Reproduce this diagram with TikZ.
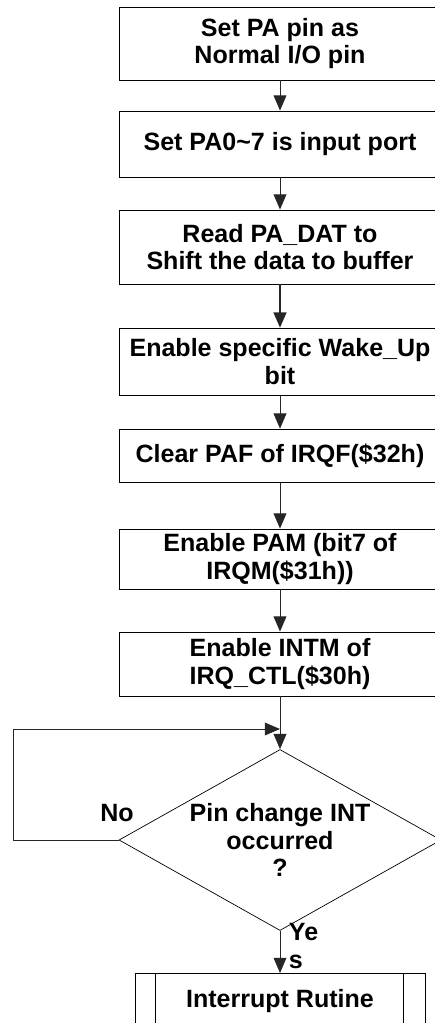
\documentclass[tikz,border=0pt]{standalone}
\usepackage{fontspec}
\setmainfont{Liberation Sans}
\usetikzlibrary{shapes.geometric, arrows.meta, positioning, calc}

\begin{document}
\begin{tikzpicture}[
    stepbox/.style={
        rectangle, draw=black, line width=0.6pt, minimum width=8.05cm,
        minimum height=#1, align=center, inner sep=0pt,
        font=\bfseries\fontsize{17.8}{19.6}\selectfont
    },
    stepbox/.default=1.6cm,
    decision/.style={
        diamond, draw=black, line width=0.5pt, minimum width=8.05cm,
        minimum height=4.525cm, inner sep=0pt
    },
    lbl/.style={font=\bfseries\fontsize{17.8}{19.6}\selectfont, align=center},
    arr/.style={-{Triangle[length=0.38cm,width=0.32cm]}, line width=0.7pt, color=black!85}
]
\useasboundingbox (0,0) rectangle (10.85,-25.575);

% Steps
\node[stepbox=1.825cm] (s1) at (7.0,-1.0875) {Set PA pin as\\Normal I/O pin};
\node[stepbox=1.65cm] (s2) at (7.0,-3.6) {Set PA0\textasciitilde7 is input port};
\node[stepbox=1.85cm] (s3) at (7.0,-6.175) {Read PA\_DAT to\\Shift the data to buffer};
\node[stepbox=1.675cm] (s4) at (7.0,-9.04) {Enable specific Wake\_Up\\bit};
\node[stepbox=1.325cm] (s5) at (7.0,-11.39) {Clear PAF of IRQF(\$32h)};
\node[stepbox=1.5cm] (s6) at (7.0,-13.975) {Enable PAM (bit7 of\\IRQM(\$31h))};
\node[stepbox=1.6cm] (s7) at (7.0,-16.6) {Enable INTM of\\IRQ\_CTL(\$30h)};

% Decision
\node[decision] (dec) at (7.0,-21.0) {};
\node[lbl] (dectxt) at (dec.center) {Pin change INT\\occurred\\?};
\node[lbl] (nolbl) at (2.925,-20.325) {No};
\node[lbl, anchor=west, align=left] (yeslbl) at (7.1,-23.65) {Ye\\s};

% Interrupt routine
\node[stepbox=1.4cm, minimum width=7.25cm, anchor=north] (sub) at (7.0,-24.325) {Interrupt Rutine};
\draw[line width=0.6pt] ([xshift=0.525cm]sub.north west) -- ([xshift=0.525cm]sub.south west);
\draw[line width=0.6pt] ([xshift=-0.55cm]sub.north east) -- ([xshift=-0.55cm]sub.south east);

% Arrows
\draw[arr] (s1.south) -- (s2.north);
\draw[arr] (s2.south) -- (s3.north);
\draw[arr, line width=1.2pt] (s3.south) -- (s4.north);
\draw[arr] (s4.south) -- (s5.north);
\draw[arr] (s5.south) -- (s6.north);
\draw[arr] (s6.south) -- (s7.north);
\draw[arr] (s7.south) -- (dec.north);
\draw[arr] (dec.south) -- (sub.north);

% No loop
\coordinate (loopleft) at (0.325,-18.225);
\coordinate (loopin) at (7.0,-18.225);
\draw[arr] (dec.west) -| (loopleft) -- (loopin);

\end{tikzpicture}
\end{document}
